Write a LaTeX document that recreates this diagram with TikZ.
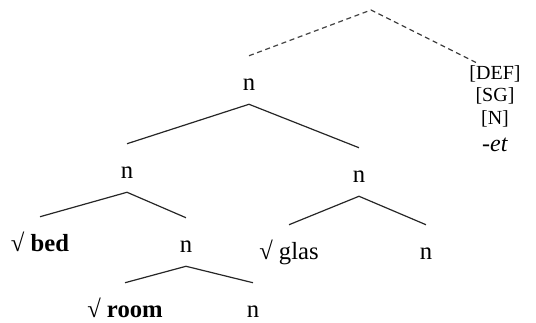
\documentclass[tikz,border=0pt]{standalone}
\usepackage{fontspec}
\setmainfont{Liberation Serif}
\usepackage{tikz}
\usetikzlibrary{positioning}
\tikzstyle{cat}   = [anchor=base, text height=15pt, text depth=0pt, inner xsep=0pt, inner ysep=10.5pt, font=\fontsize{18.5}{22}\selectfont]
\tikzstyle{feat}  = [anchor=base, align=center, inner sep=0pt, font=\fontsize{15}{16.9}\selectfont]
\tikzstyle{edge}  = [line width=0.9pt, draw=black!85]
\tikzstyle{proj}  = [line width=0.9pt, draw=black!75, dash pattern=on 3.75pt off 2.75pt]

\begin{document}
\begin{tikzpicture}[x=0.75pt, y=-0.75pt]
    \useasboundingbox (0,0) rectangle (536,322);
    \node (n1)   [cat] at (249,90)  {n};
    \node (n2)   [cat] at (127,178) {n};
    \node (bed)  [cat] at (40,251)  {√ \textbf{bed}};
    \node (n4)   [cat] at (186,252) {n};
    \node (room) [cat] at (125,317) {√ \textbf{room}};
    \node (n5)   [cat] at (253,317) {n};
    \node (n3)   [cat] at (359,182) {n};
    \node (glas) [cat] at (289,259) {√ glas};
    \node (n6)   [cat] at (426,259) {n};
    \node (def)  [feat] at (495,151) {[DEF]\\{}[SG]\\{}[N]\\[3pt]{\fontsize{18}{20}\selectfont-\textit{et}}};
    \coordinate (top) at (371,10);

    \draw [edge] (n1.south) -- (n2.north);
    \draw [edge] (n1.south) -- (n3.north);
    \draw [edge] (n2.south) -- (bed.north);
    \draw [edge] (n2.south) -- (n4.north);
    \draw [edge] (n4.south) -- (room.north);
    \draw [edge] (n4.south) -- (n5.north);
    \draw [edge] (n3.south) -- (glas.north);
    \draw [edge] (n3.south) -- (n6.north);
    \draw [proj] (n1.north) -- (top) -- ([xshift=5.25pt,yshift=2pt]def.north west);
\end{tikzpicture}
\end{document}
